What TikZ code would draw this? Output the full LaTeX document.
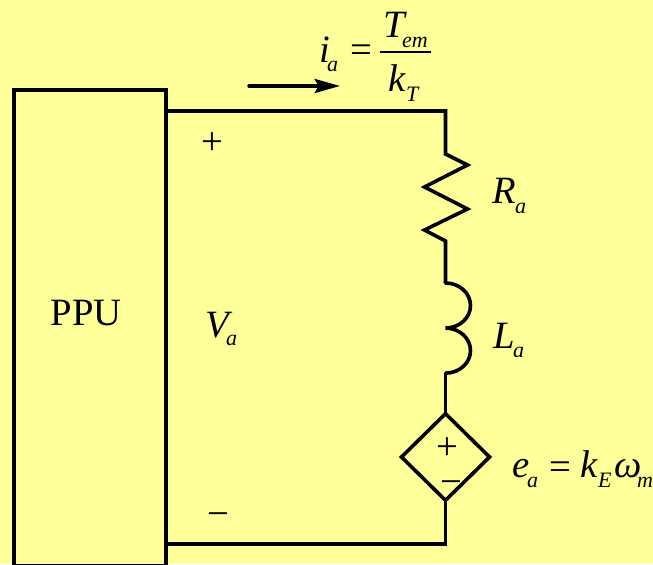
\documentclass[tikz,border=0pt]{standalone}
\usepackage{fontspec}
\setmainfont{Liberation Serif}
\usepackage{xcolor}
\usetikzlibrary{arrows.meta,calc,shapes.geometric}
\definecolor{bgyellow}{HTML}{FFFF99}
\tikzset{
  wire/.style={line width=2.7pt,line join=miter},
  lbl/.style={anchor=base west,inner sep=0pt,outer sep=0pt,font=\fontsize{29}{30}\selectfont\itshape},
  sublbl/.style={anchor=base west,inner sep=0pt,outer sep=0pt,font=\fontsize{16.5}{18}\selectfont\itshape},
  sign/.style={inner sep=0pt,outer sep=0pt,font=\fontsize{29}{30}\selectfont}
}
\begin{document}
\begin{tikzpicture}[x=0.75pt,y=-0.75pt]
\useasboundingbox (0,0) rectangle (653,564);
\fill[bgyellow] (0,0) rectangle (653,564);
% converter box
\node[draw,wire,rectangle,inner sep=0pt,outer sep=0pt,minimum width=114pt,minimum height=357pt,anchor=north west,sign] (ppu) at (14,90) {};
\node[sign,anchor=base] (ppulabel) at (86,325) {PPU};
% source
\node[draw,wire,diamond,aspect=1,inner sep=0pt,outer sep=0pt,minimum width=66pt,minimum height=65pt] (emf) at (445.5,457) {};
% armature loop
\draw[wire] (ppu.east |- 0,111) coordinate(A) -- (445.5,111) coordinate(B) -- ++(0,43) coordinate(C)
  -- ++(22,11) -- ++(-43,22) -- ++(43,22) -- ++(-43,21) -- ++(21,11) coordinate(D) -- ++(0,42) coordinate(E);
\draw[wire,line cap=round] (E) arc[start angle=90,end angle=-90,x radius=18.75pt,y radius=16.9pt] coordinate(F)
  arc[start angle=90,end angle=-90,x radius=18.75pt,y radius=16.9pt] coordinate(G);
\draw[wire] (G) -- (G |- emf.north);
\draw[wire] (emf.south) -- (emf.south |- 0,544) coordinate(H) -- (ppu.east |- H);
% current arrow
\coordinate (arrowstart) at (249,86);
\coordinate (arrowend) at (340,86);
\draw[line width=2.6pt,line cap=round,-{Stealth[length=19pt,width=10.5pt,inset=3pt]}] (arrowstart) -- (arrowend);
% current label
\node[lbl] (ia) at (319,62) {i};
\node[sublbl] (iasub) at (327,71) {a};
\node[sign] (eqtop) at (361,54) {=};
\node[lbl] (tem) at (383,37) {T};
\node[sublbl] (temsub) at (402,47) {em};
\draw[line width=1.3pt] (380,52) coordinate(ruleL) -- (431,52) coordinate(ruleR);
\node[lbl] (kt) at (388,91) {k};
\node[sublbl] (ktsub) at (406,101) {T};
% voltage labels
\node[sign] (vplus) at (212,144) {+};
\node[sign] (vminus) at (218,520) {−};
\node[lbl] (va) at (205,337) {V};
\node[sublbl] (vasub) at (226,345) {a};
% element labels
\node[lbl] (ra) at (492,203) {R};
\node[sublbl] (rasub) at (515,213) {a};
\node[lbl] (la) at (493,348) {L};
\node[sublbl] (lasub) at (513,357) {a};
% source labels
\node[sign] (splus) at (447.5,449) {+};
\node[sign] (sminus) at (451,488) {−};
\node[lbl] (ea) at (512,477) {e};
\node[sublbl] (easub) at (527,487) {a};
\node[sign] (eqemf) at (560,471) {=};
\node[lbl] (ke) at (580,477) {k};
\node[sublbl] (kesub) at (598,487) {E};
\node[lbl] (wm) at (614,477) {ω};
\node[sublbl] (wmsub) at (637,487) {m};
\end{tikzpicture}
\end{document}
